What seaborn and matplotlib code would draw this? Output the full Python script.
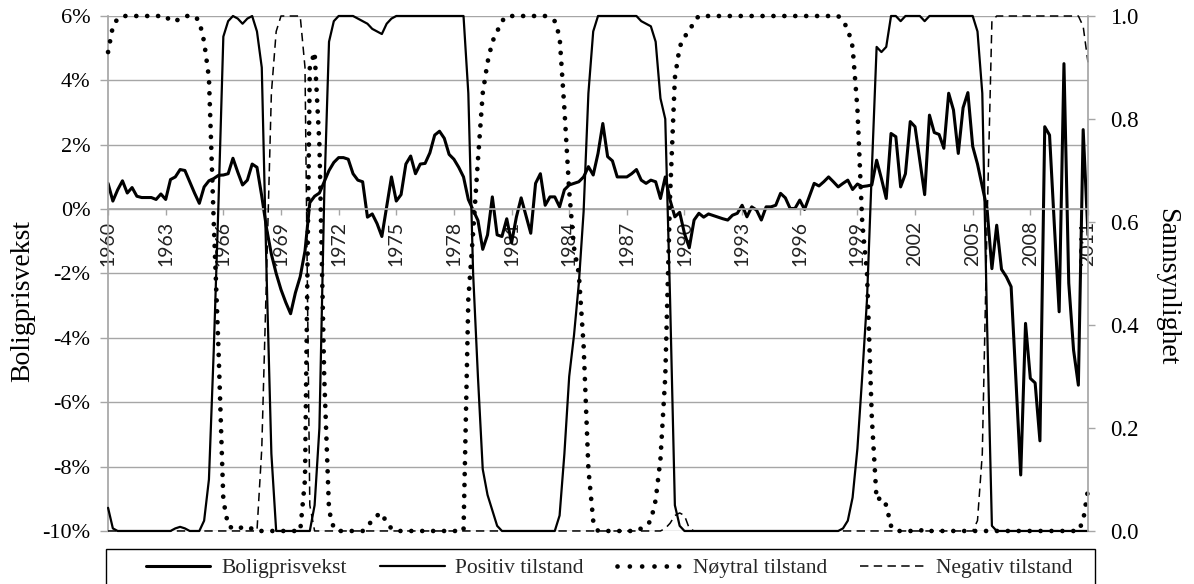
import numpy as np
import pandas as pd
import matplotlib
matplotlib.use('Agg')
import matplotlib.pyplot as plt
import seaborn as sns
from matplotlib.lines import Line2D
from matplotlib.patches import Rectangle
from matplotlib.ticker import FuncFormatter

sns.set_theme(style='white')
plt.rcParams['font.family'] = ['Liberation Serif', 'DejaVu Serif']

# kvartalsdata 1960K1 - 2011K1
kvartal = pd.period_range('1960Q1', periods=205, freq='Q')

# boligprisvekst i prosent (venstre akse)
pris = [0.8, 0.25, 0.6, 0.88, 0.5, 0.67, 0.4, 0.36,
        0.36, 0.36, 0.3, 0.47, 0.3, 0.92, 1.0, 1.23,
        1.2, 0.85, 0.5, 0.18, 0.69, 0.88, 0.95, 1.05,
        1.06, 1.1, 1.58, 1.15, 0.75, 0.9, 1.4, 1.3,
        0.4, -0.6, -1.4, -2.0, -2.5, -2.9, -3.25, -2.6,
        -2.1, -1.3, 0.2, 0.4, 0.5, 0.85, 1.2, 1.45,
        1.6, 1.6, 1.55, 1.1, 0.9, 0.85, -0.25, -0.15,
        -0.45, -0.85, 0.08, 1.0, 0.25, 0.45, 1.4, 1.65,
        1.1, 1.4, 1.42, 1.75, 2.3, 2.42, 2.2, 1.7,
        1.55, 1.3, 1.0, 0.3, -0.03, -0.35, -1.25, -0.8,
        0.38, -0.8, -0.85, -0.3, -1.05, -0.25, 0.35, -0.2,
        -0.75, 0.8, 1.1, 0.12, 0.38, 0.38, 0.07, 0.6,
        0.75, 0.8, 0.85, 1.0, 1.32, 1.06, 1.73, 2.66,
        1.63, 1.5, 1.0, 1.0, 1.0, 1.1, 1.23, 0.9,
        0.8, 0.9, 0.85, 0.33, 1.0, 0.28, -0.24, -0.1,
        -0.76, -1.2, -0.34, -0.13, -0.25, -0.15, -0.2, -0.25,
        -0.3, -0.34, -0.19, -0.13, 0.12, -0.24, 0.07, -0.03,
        -0.34, 0.07, 0.07, 0.12, 0.49, 0.35, 0.02, 0.02,
        0.28, -0.01, 0.4, 0.8, 0.72, 0.85, 1.0, 0.85,
        0.69, 0.8, 0.9, 0.61, 0.78, 0.7, 0.72, 0.75,
        1.52, 0.95, 0.33, 2.35, 2.25, 0.69, 1.1, 2.72,
        2.56, 1.5, 0.45, 2.92, 2.38, 2.32, 1.89, 3.6,
        3.08, 1.73, 3.15, 3.62, 1.95, 1.4, 0.7, 0.0,
        -1.85, -0.5, -1.87, -2.1, -2.41, -5.3, -8.26, -3.55,
        -5.26, -5.4, -7.2, 2.56, 2.3, -0.5, -3.19, 4.52,
        -2.3, -4.38, -5.47, 2.47, -0.8]

# sannsynligheter (hoyre akse)
positiv = [0.045, 0.005, 0.0, 0.0, 0.0, 0.0, 0.0, 0.0,
           0.0, 0.0, 0.0, 0.0, 0.0, 0.0, 0.005, 0.008,
           0.005, 0.0, 0.0, 0.0, 0.02, 0.1, 0.35, 0.64,
           0.96, 0.99, 1.0, 0.995, 0.985, 0.995, 1.0, 0.97,
           0.9, 0.5, 0.15, 0.0, 0.0, 0.0, 0.0, 0.0,
           0.0, 0.0, 0.0, 0.05, 0.2, 0.65, 0.95, 0.99,
           1.0, 1.0, 1.0, 1.0, 0.995, 0.99, 0.985, 0.975,
           0.97, 0.965, 0.985, 0.995, 1.0, 1.0, 1.0, 1.0,
           1.0, 1.0, 1.0, 1.0, 1.0, 1.0, 1.0, 1.0,
           1.0, 1.0, 1.0, 0.85, 0.5, 0.3, 0.12, 0.07,
           0.04, 0.01, 0.0, 0.0, 0.0, 0.0, 0.0, 0.0,
           0.0, 0.0, 0.0, 0.0, 0.0, 0.0, 0.03, 0.15,
           0.3, 0.38, 0.48, 0.62, 0.85, 0.97, 1.0, 1.0,
           1.0, 1.0, 1.0, 1.0, 1.0, 1.0, 1.0, 0.99,
           0.985, 0.98, 0.95, 0.84, 0.8, 0.45, 0.05, 0.01,
           0.0, 0.0, 0.0, 0.0, 0.0, 0.0, 0.0, 0.0,
           0.0, 0.0, 0.0, 0.0, 0.0, 0.0, 0.0, 0.0,
           0.0, 0.0, 0.0, 0.0, 0.0, 0.0, 0.0, 0.0,
           0.0, 0.0, 0.0, 0.0, 0.0, 0.0, 0.0, 0.0,
           0.0, 0.005, 0.02, 0.065, 0.16, 0.3, 0.45, 0.7,
           0.94, 0.93, 0.94, 1.0, 1.0, 0.99, 1.0, 1.0,
           1.0, 1.0, 0.99, 1.0, 1.0, 1.0, 1.0, 1.0,
           1.0, 1.0, 1.0, 1.0, 1.0, 0.97, 0.85, 0.4,
           0.01, 0.0, 0.0, 0.0, 0.0, 0.0, 0.0, 0.0,
           0.0, 0.0, 0.0, 0.0, 0.0, 0.0, 0.0, 0.0,
           0.0, 0.0, 0.0, 0.0, 0.0]

noytral = [0.93, 0.98, 0.995, 1.0, 1.0, 1.0, 1.0, 1.0,
           1.0, 1.0, 1.0, 1.0, 1.0, 0.99, 0.99, 0.995,
           1.0, 1.0, 1.0, 0.99, 0.95, 0.88, 0.6, 0.35,
           0.06, 0.01, 0.005, 0.003, 0.008, 0.004, 0.005, 0.0,
           0.0, 0.0, 0.0, 0.0, 0.0, 0.0, 0.0, 0.0,
           0.0, 0.1, 0.9, 0.93, 0.75, 0.3, 0.04, 0.005,
           0.0, 0.0, 0.0, 0.0, 0.0, 0.0, 0.01, 0.02,
           0.03, 0.035, 0.015, 0.005, 0.0, 0.0, 0.0, 0.0,
           0.0, 0.0, 0.0, 0.0, 0.0, 0.0, 0.0, 0.0,
           0.0, 0.0, 0.0, 0.45, 0.58, 0.72, 0.85, 0.91,
           0.95, 0.97, 0.99, 1.0, 1.0, 1.0, 1.0, 1.0,
           1.0, 1.0, 1.0, 1.0, 0.995, 0.99, 0.96, 0.82,
           0.66, 0.55, 0.5, 0.36, 0.12, 0.02, 0.0, 0.0,
           0.0, 0.0, 0.0, 0.0, 0.0, 0.0, 0.0, 0.005,
           0.01, 0.02, 0.06, 0.14, 0.3, 0.65, 0.88, 0.94,
           0.96, 0.97, 0.99, 1.0, 1.0, 1.0, 1.0, 1.0,
           1.0, 1.0, 1.0, 1.0, 1.0, 1.0, 1.0, 1.0,
           1.0, 1.0, 1.0, 1.0, 1.0, 1.0, 1.0, 1.0,
           1.0, 1.0, 1.0, 1.0, 1.0, 1.0, 1.0, 1.0,
           1.0, 0.99, 0.975, 0.94, 0.82, 0.6, 0.5, 0.22,
           0.06, 0.065, 0.05, 0.01, 0.0, 0.0, 0.0, 0.0,
           0.0, 0.0, 0.004, 0.0, 0.0, 0.0, 0.0, 0.0,
           0.0, 0.0, 0.0, 0.0, 0.0, 0.0, 0.0, 0.0,
           0.0, 0.0, 0.0, 0.0, 0.0, 0.0, 0.0, 0.0,
           0.0, 0.0, 0.0, 0.0, 0.0, 0.0, 0.0, 0.0,
           0.0, 0.0, 0.0, 0.02, 0.08]

negativ = [0.0, 0.0, 0.0, 0.0, 0.0, 0.0, 0.0, 0.0,
           0.0, 0.0, 0.0, 0.0, 0.0, 0.0, 0.0, 0.0,
           0.0, 0.0, 0.0, 0.0, 0.0, 0.0, 0.0, 0.0,
           0.0, 0.0, 0.0, 0.0, 0.0, 0.0, 0.0, 0.0,
           0.16, 0.5, 0.85, 0.97, 1.0, 1.0, 1.0, 1.0,
           1.0, 0.9, 0.05, 0.0, 0.0, 0.0, 0.0, 0.0,
           0.0, 0.0, 0.0, 0.0, 0.0, 0.0, 0.0, 0.0,
           0.0, 0.0, 0.0, 0.0, 0.0, 0.0, 0.0, 0.0,
           0.0, 0.0, 0.0, 0.0, 0.0, 0.0, 0.0, 0.0,
           0.0, 0.0, 0.0, 0.0, 0.0, 0.0, 0.0, 0.0,
           0.0, 0.0, 0.0, 0.0, 0.0, 0.0, 0.0, 0.0,
           0.0, 0.0, 0.0, 0.0, 0.0, 0.0, 0.0, 0.0,
           0.0, 0.0, 0.0, 0.0, 0.0, 0.0, 0.0, 0.0,
           0.0, 0.0, 0.0, 0.0, 0.0, 0.0, 0.0, 0.0,
           0.0, 0.0, 0.0, 0.0, 0.005, 0.015, 0.03, 0.035,
           0.03, 0.005, 0.0, 0.0, 0.0, 0.0, 0.0, 0.0,
           0.0, 0.0, 0.0, 0.0, 0.0, 0.0, 0.0, 0.0,
           0.0, 0.0, 0.0, 0.0, 0.0, 0.0, 0.0, 0.0,
           0.0, 0.0, 0.0, 0.0, 0.0, 0.0, 0.0, 0.0,
           0.0, 0.0, 0.0, 0.0, 0.0, 0.0, 0.0, 0.0,
           0.0, 0.0, 0.0, 0.0, 0.0, 0.0, 0.0, 0.0,
           0.0, 0.0, 0.0, 0.0, 0.0, 0.0, 0.0, 0.0,
           0.0, 0.0, 0.0, 0.0, 0.0, 0.02, 0.15, 0.6,
           0.99, 1.0, 1.0, 1.0, 1.0, 1.0, 1.0, 1.0,
           1.0, 1.0, 1.0, 1.0, 1.0, 1.0, 1.0, 1.0,
           1.0, 1.0, 1.0, 0.98, 0.91]

aar_ticks = list(range(1960, 2012, 3))

df = pd.DataFrame({'tid': kvartal.year + (kvartal.quarter - 1) / 4,
                   'Boligprisvekst': pris,
                   'Positiv tilstand': positiv,
                   'Nøytral tilstand': noytral,
                   'Negativ tilstand': negativ})

grey = '#a6a6a6'

fig, ax = plt.subplots(figsize=(11.94, 5.84), dpi=100)
fig.subplots_adjust(left=0.0905, right=0.9112, top=0.9726, bottom=0.0908)
ax2 = ax.twinx()

sns.lineplot(data=df, x='tid', y='Boligprisvekst', ax=ax, color='black', lw=2.2)

dot_style = (0, (0.01, 2.3))
dash_style = (0, (5.5, 3.5))
sns.lineplot(data=df, x='tid', y='Positiv tilstand', ax=ax2, color='black', lw=1.6, clip_on=False)
sns.lineplot(data=df, x='tid', y='Nøytral tilstand', ax=ax2, color='black', lw=3.4,
             linestyle=dot_style, dash_capstyle='round', clip_on=False)
sns.lineplot(data=df, x='tid', y='Negativ tilstand', ax=ax2, color='black', lw=1.1,
             linestyle=dash_style, clip_on=False)

# venstre akse
ax.set_xlim(1960, 2011)
ax.set_ylim(-10, 6)
ax.set_yticks(range(-10, 7, 2))
ax.yaxis.set_major_formatter(FuncFormatter(lambda v, p: f'{int(round(v))}%'))
ax.set_xticks(aar_ticks)
ax.set_xticklabels([str(a) for a in aar_ticks])
ax.grid(axis='y', color=grey, lw=1.0)
ax.grid(axis='x', visible=False)
for s in ['top', 'right']:
    ax.spines[s].set_visible(False)
ax.spines['left'].set_color(grey)
ax.spines['bottom'].set_color(grey)
ax.spines['bottom'].set_position(('data', 0))
ax.tick_params(axis='y', left=True, direction='out', length=5.8, width=1, color=grey,
               pad=7, labelsize=16, labelcolor='black')
ax.tick_params(axis='x', bottom=True, direction='out', length=4.5, width=1, color=grey,
               pad=4, labelsize=14, labelrotation=90, labelcolor='#222222')
for lab in ax.get_xticklabels():
    lab.set_fontfamily(['Lato', 'DejaVu Sans'])
ax.set_xlabel('')
ax.set_ylabel('Boligprisvekst', fontsize=20, color='black')
ax.yaxis.set_label_coords(-0.0745, 0.447)

# hoyre akse
ax2.set_ylim(0, 1)
ax2.set_yticks(np.arange(0, 1.01, 0.2))
ax2.yaxis.set_major_formatter(FuncFormatter(lambda v, p: f'{v:.1f}'))
ax2.grid(False)
for s in ['top', 'left', 'bottom']:
    ax2.spines[s].set_visible(False)
ax2.spines['right'].set_color(grey)
ax2.tick_params(axis='y', right=True, direction='out', length=5, width=1, color=grey,
                pad=11, labelsize=16.5, labelcolor='black')
ax2.set_ylabel('Sannsynlighet', fontsize=20, rotation=270, color='black')
ax2.yaxis.set_label_coords(1.093, 0.474)

for a in (ax, ax2):
    if a.get_legend() is not None:
        a.get_legend().remove()

handles = [Line2D([], [], color='black', lw=2.2),
           Line2D([], [], color='black', lw=1.6),
           Line2D([], [], color='black', lw=3.4, linestyle=(0, (0.01, 2.6)), dash_capstyle='round'),
           Line2D([], [], color='black', lw=1.1, linestyle=dash_style)]
labels = ['Boligprisvekst', 'Positiv tilstand', 'Nøytral tilstand', 'Negativ tilstand']
leg = fig.legend(handles, labels, loc='center',
                 bbox_to_anchor=(609 / 1194, 1 - 568 / 584),
                 ncol=4, frameon=False, fontsize=15.5, handlelength=3.0,
                 handletextpad=0.5, columnspacing=1.55, borderaxespad=0, borderpad=0)

# legendramme som i Excel, nederste kant utenfor bildet
fig.patches.append(Rectangle((106 / 1194, -0.03), (1095 - 106) / 1194, 0.03 + 1 - 549 / 584,
                             transform=fig.transFigure, fill=False, edgecolor='black', lw=1.0))

fig.savefig('out.png', dpi=100)
